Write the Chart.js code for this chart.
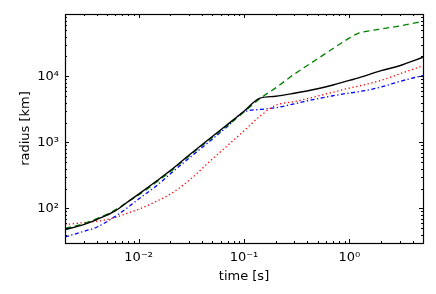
<!DOCTYPE html>
<html>
<head>
<meta charset="utf-8">
<script src="https://cdn.jsdelivr.net/npm/chart.js@4"></script>
<style>
  body { margin: 0; background: #fff; }
  canvas { display: block; }
</style>
</head>
<body>
<canvas id="chart" width="436" height="294"></canvas>
<script>
// valores (tempo em s, raio em km)
const time = [0.002, 0.003, 0.004, 0.006, 0.008, 0.01, 0.015, 0.02, 0.03, 0.05, 0.07, 0.1, 0.14, 0.2, 0.3, 0.5, 0.7, 1, 1.2, 2, 3, 5];
const radiusSolid   = [48, 57, 68, 92, 128, 165, 265, 375, 640, 1230, 1880, 2960, 4650, 5000, 5550, 6500, 7400, 8700, 9400, 12200, 14500, 19500];
const radiusDashed  = [50, 59, 70, 95, 128, 160, 255, 362, 620, 1190, 1820, 2880, 4550, 6700, 10800, 18500, 26500, 38000, 44500, 52000, 58000, 68000];
const radiusDotted  = [57, 61, 64, 73, 86, 97, 130, 165, 265, 560, 900, 1500, 2450, 3650, 4140, 5020, 5760, 6650, 7080, 8700, 10900, 14500];
const radiusDashDot = [37, 45, 52, 76, 105, 139, 225, 335, 575, 1120, 1760, 2900, 3150, 3350, 3840, 4600, 5090, 5600, 5830, 6890, 8380, 10300];

const xTickValues = [0.01, 0.1, 1];
const xTickLabels = ['10⁻²', '10⁻¹', '10⁰'];
const yTickValues = [100, 1000, 10000];
const yTickLabels = ['10²', '10³', '10⁴'];

function points(values) {
    return values.map((v, i) => ({ x: time[i], y: v }));
}

// moldura e marcas para dentro, nos quatro lados
const framePlugin = {
    id: 'frame',
    afterDatasetsDraw(chart) {
        const { ctx, chartArea: a, scales } = chart;
        ctx.save();
        ctx.strokeStyle = '#000';
        ctx.lineWidth = 1;

        function logTicks(scale) {
            const out = [];
            const lo = Math.floor(Math.log10(scale.min));
            const hi = Math.ceil(Math.log10(scale.max));
            for (let d = lo; d <= hi; d++) {
                for (let k = 1; k <= 9; k++) {
                    const v = k * Math.pow(10, d);
                    if (v >= scale.min && v <= scale.max) out.push({ v: v, major: k === 1 });
                }
            }
            return out;
        }

        ctx.beginPath();
        logTicks(scales.x).forEach(t => {
            const px = Math.round(scales.x.getPixelForValue(t.v)) + 0.5;
            const len = t.major ? 4 : 2;
            ctx.moveTo(px, a.bottom); ctx.lineTo(px, a.bottom - len);
            ctx.moveTo(px, a.top); ctx.lineTo(px, a.top + len);
        });
        logTicks(scales.y).forEach(t => {
            const py = Math.round(scales.y.getPixelForValue(t.v)) + 0.5;
            const len = t.major ? 4 : 2;
            ctx.moveTo(a.left, py); ctx.lineTo(a.left + len, py);
            ctx.moveTo(a.right, py); ctx.lineTo(a.right - len, py);
        });
        ctx.stroke();

        ctx.lineWidth = 1.2;
        ctx.strokeRect(Math.round(a.left) + 0.5, Math.round(a.top) + 0.5,
            Math.round(a.right - a.left), Math.round(a.bottom - a.top));
        ctx.restore();
    }
};

const font = { family: 'DejaVu Sans', size: 13 };

new Chart(document.getElementById('chart').getContext('2d'), {
    type: 'line',
    data: {
        datasets: [
            { data: points(radiusSolid), borderColor: '#000000', borderWidth: 1.4 },
            { data: points(radiusDashed), borderColor: '#008000', borderWidth: 1.3, borderDash: [6, 4] },
            { data: points(radiusDotted), borderColor: '#ff0000', borderWidth: 1.3, borderDash: [1.3, 2.6] },
            { data: points(radiusDashDot), borderColor: '#0000ff', borderWidth: 1.3, borderDash: [4, 2.5, 1.3, 2.5] }
        ]
    },
    options: {
        responsive: false,
        animation: false,
        layout: { padding: { top: 14, right: 13, left: 0, bottom: 0 } },
        plugins: { legend: { display: false }, tooltip: { enabled: false } },
        elements: { point: { radius: 0 }, line: { cubicInterpolationMode: 'monotone', fill: false } },
        scales: {
            x: {
                type: 'logarithmic',
                min: 0.002,
                max: 5,
                grid: { display: false, drawTicks: false },
                border: { display: false },
                ticks: {
                    color: '#000', font: font, padding: 7, autoSkip: false, maxRotation: 0,
                    callback: (v, i) => xTickLabels[i]
                },
                afterBuildTicks: s => { s.ticks = xTickValues.map(v => ({ value: v })); },
                afterFit: s => { s.height = 51; },
                title: { display: true, text: 'time [s]', color: '#000', font: font, padding: { top: 0, bottom: 10 } }
            },
            y: {
                type: 'logarithmic',
                min: 30,
                max: 88000,
                grid: { display: false, drawTicks: false },
                border: { display: false },
                ticks: {
                    color: '#000', font: font, padding: 6, autoSkip: false,
                    callback: (v, i) => yTickLabels[i]
                },
                afterBuildTicks: s => { s.ticks = yTickValues.map(v => ({ value: v })); },
                afterFit: s => { s.width = 65; },
                title: { display: true, text: 'radius [km]', color: '#000', font: font, padding: { top: 18, bottom: 0 } }
            }
        }
    },
    plugins: [framePlugin]
});
</script>
</body>
</html>
